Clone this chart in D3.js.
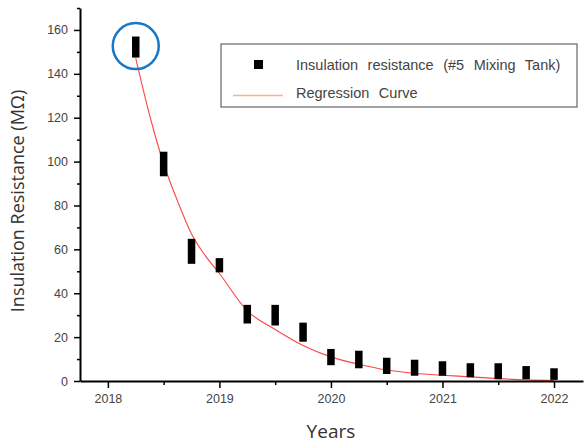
<!DOCTYPE html>
<html>
<head>
<meta charset="utf-8">
<script src="https://cdn.jsdelivr.net/npm/d3@7/dist/d3.min.js"></script>
<style>
  html, body { margin: 0; padding: 0; background: #fff; }
  svg { display: block; font-family: "Liberation Sans", Arial, sans-serif; }
</style>
</head>
<body>
<svg id="chart" width="585" height="444"></svg>
<script>
// Measurement dates (years) and the spread of readings at each date (MΩ)
const years = [2018.25, 2018.5, 2018.75, 2019, 2019.25, 2019.5, 2019.75, 2020,
               2020.25, 2020.5, 2020.75, 2021, 2021.25, 2021.5, 2021.75, 2022];
const highValues = [157, 104.5, 64.8, 56, 34.7, 34.7, 26.6, 14.6,
                    13.8, 10.6, 9.7, 9.0, 8.1, 8.1, 6.8, 5.8];
const lowValues = [147.4, 93.3, 53.4, 49.5, 26.2, 25.3, 17.9, 7.2,
                   5.8, 3.2, 2.4, 2.4, 1.7, 0.8, 0.8, 0.5];

// Regression curve samples
const curveYears = [2018.25, 2018.375, 2018.5, 2018.625, 2018.75, 2018.875, 2019,
                    2019.25, 2019.5, 2019.75, 2020, 2020.25, 2020.5, 2020.75,
                    2021, 2021.25, 2021.5, 2021.75, 2022];
const curveValues = [147, 121, 99, 82, 67, 57, 49,
                     32, 23.5, 16.2, 11, 7.6, 5, 3.5,
                     2.6, 1.9, 1.1, 0.5, 0.2];

// Axis ticks
const xMajorTicks = [2018, 2019, 2020, 2021, 2022];
const xMinorTicks = [2018.5, 2019.5, 2020.5, 2021.5];
const yMajorTicks = [0, 20, 40, 60, 80, 100, 120, 140, 160];
const yMinorTicks = [10, 30, 50, 70, 90, 110, 130, 150, 170];

const legendLabels = ["Insulation resistance (#5 Mixing Tank)", "Regression Curve"];
const xTitle = "Years";
const yTitle = "Insulation Resistance (MΩ)";

const svg = d3.select("#chart");

const x = d3.scaleLinear().domain([2017.75, 2022.26]).range([80, 583]);
const y = d3.scaleLinear().domain([0, 170]).range([381, 8]);

// Regression curve
const line = d3.line()
  .x((d, i) => x(curveYears[i]))
  .y(d => y(d))
  .curve(d3.curveMonotoneX);

svg.append("path")
  .datum(curveValues)
  .attr("d", line)
  .attr("fill", "none")
  .attr("stroke", "#ff3030")
  .attr("stroke-width", 1.1)
  .attr("opacity", 0.9);

// Measurement markers: bar from lowest to highest reading
const markerW = 7.5;
svg.append("g")
  .selectAll("rect")
  .data(years)
  .join("rect")
  .attr("x", d => x(d) - markerW / 2)
  .attr("y", (d, i) => y(highValues[i]))
  .attr("width", markerW)
  .attr("height", (d, i) => y(lowValues[i]) - y(highValues[i]))
  .attr("fill", "#000");

// Axes
svg.append("g")
  .attr("transform", "translate(0,381)")
  .call(d3.axisBottom(x).tickValues(xMajorTicks).tickFormat(d3.format("d"))
    .tickSize(7).tickSizeOuter(0).tickPadding(6));
const xMinor = svg.append("g")
  .attr("transform", "translate(0,381)")
  .call(d3.axisBottom(x).tickValues(xMinorTicks).tickFormat("")
    .tickSize(4).tickSizeOuter(0));
xMinor.select(".domain").remove();

svg.append("g")
  .attr("transform", "translate(80,0)")
  .call(d3.axisLeft(y).tickValues(yMajorTicks).tickSize(6).tickSizeOuter(0).tickPadding(6));
const yMinor = svg.append("g")
  .attr("transform", "translate(80,0)")
  .call(d3.axisLeft(y).tickValues(yMinorTicks).tickFormat("").tickSize(3).tickSizeOuter(0));
yMinor.select(".domain").remove();

svg.selectAll(".domain").attr("stroke", "#000").attr("stroke-width", 2);
svg.selectAll(".tick line").attr("stroke", "#000").attr("stroke-width", 1.5);
svg.selectAll(".tick text")
  .attr("font-size", 12.5)
  .attr("font-family", "'Liberation Sans', Arial, sans-serif")
  .attr("fill", "#444");

// Axis titles
svg.append("text")
  .attr("x", x(2020))
  .attr("y", 438)
  .attr("text-anchor", "middle")
  .attr("font-size", 19)
  .attr("font-family", "'Open Sans', 'DejaVu Sans', sans-serif")
  .attr("fill", "#333")
  .text(xTitle);

svg.append("text")
  .attr("transform", "translate(24,201) rotate(-90)")
  .attr("text-anchor", "middle")
  .attr("font-size", 18)
  .attr("font-family", "'Open Sans', 'DejaVu Sans', sans-serif")
  .attr("fill", "#333")
  .text(yTitle);

// Highlight ring round the first measurement
svg.append("circle")
  .attr("cx", x(years[0]))
  .attr("cy", y((highValues[0] + lowValues[0]) / 2) - 1)
  .attr("r", 23)
  .attr("fill", "none")
  .attr("stroke", "#1877c6")
  .attr("stroke-width", 2.5);

// Legend
const legend = svg.append("g");
legend.append("rect")
  .attr("x", 221).attr("y", 44).attr("width", 356).attr("height", 63)
  .attr("fill", "#fff").attr("stroke", "#666").attr("stroke-width", 1.2);
legend.append("rect")
  .attr("x", 254).attr("y", 60).attr("width", 9).attr("height", 9)
  .attr("fill", "#000");
legend.append("line")
  .attr("x1", 233).attr("x2", 283).attr("y1", 95.5).attr("y2", 95.5)
  .attr("stroke", "#f6b494").attr("stroke-width", 1.5);
legend.selectAll("text.lbl")
  .data(legendLabels)
  .join("text")
  .attr("class", "lbl")
  .attr("x", 296)
  .attr("y", (d, i) => 70 + i * 28)
  .attr("font-size", 14.5)
  .attr("word-spacing", 5.5)
  .attr("fill", "#444")
  .text(d => d);
</script>
</body>
</html>
